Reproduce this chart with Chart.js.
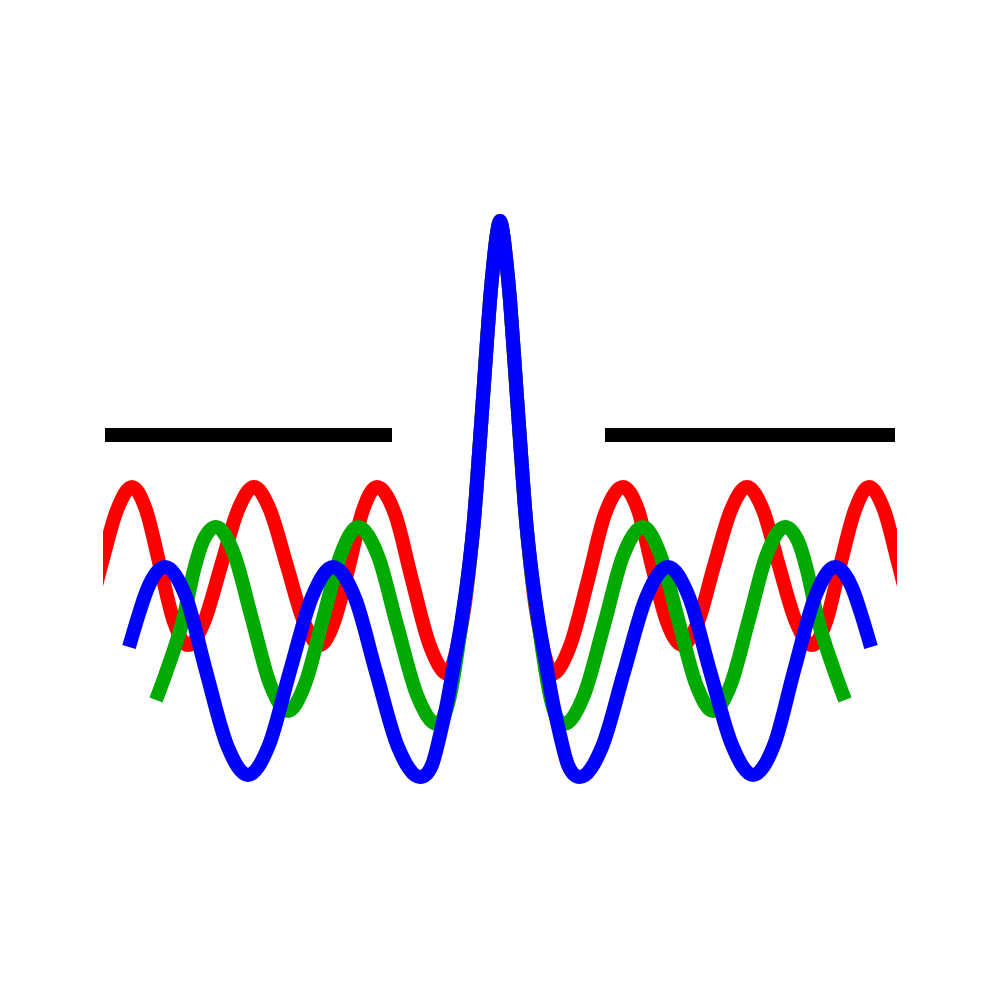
<!DOCTYPE html>
<html>
<head>
<meta charset="utf-8">
<script src="https://cdn.jsdelivr.net/npm/chart.js@4"></script>
<style>
html,body{margin:0;padding:0;background:#fff;}
#wrap{width:1000px;height:1000px;}
</style>
</head>
<body>
<div id="wrap"><canvas id="c" width="1000" height="1000"></canvas></div>
<script>
// values, [x, y] in arbitrary units
const blue = [[-371,-147],[-363,-120],[-353,-90],[-344,-73],[-335,-67],[-314,-97],[-294,-171],[-273,-245],[-252,-275],[-231,-245],[-210,-171],[-188,-97],[-167,-67],[-145,-98],[-124,-172],[-102,-247],[-80,-277],[-68,-265],[-60,-235],[-53,-203],[-46,-164],[-38,-118],[-32,-75],[-26,-20],[-20,60],[-14,145],[-10,200],[-6,242],[-3,267],[0,279],[3,267],[6,242],[10,200],[14,145],[20,60],[26,-20],[32,-75],[38,-118],[46,-164],[53,-203],[60,-235],[68,-265],[80,-277],[102,-247],[124,-172],[146,-98],[168,-67],[189,-97],[210,-171],[232,-245],[253,-275],[274,-245],[294,-171],[315,-97],[335,-67],[344,-73],[353,-90],[363,-120],[371,-147]];
const green = [[-344,-200],[-333,-170],[-317,-120],[-306,-70],[-297,-41],[-284,-27],[-266,-54],[-248,-119],[-230,-184],[-212,-211],[-195,-184],[-177,-119],[-159,-54],[-142,-27],[-122,-56],[-103,-125],[-83,-195],[-63,-224],[-57,-218],[-51,-200],[-45,-168],[-38,-120],[-32,-77],[-26,-20],[-20,60],[-14,145],[-10,200],[-6,242],[-3,267],[0,279],[3,267],[6,242],[10,200],[14,145],[20,60],[26,-20],[32,-77],[38,-120],[45,-168],[51,-200],[57,-218],[64,-224],[84,-195],[104,-125],[123,-56],[143,-27],[160,-54],[178,-119],[196,-184],[213,-211],[231,-184],[249,-119],[267,-54],[285,-27],[298,-41],[307,-70],[318,-120],[334,-170],[345,-200]];
const red = [[-429,-145],[-414,-122],[-399,-66],[-383,-10],[-368,13],[-354,-10],[-340,-66],[-326,-122],[-312,-145],[-296,-122],[-279,-66],[-262,-10],[-246,13],[-230,-10],[-213,-66],[-196,-122],[-180,-145],[-166,-122],[-151,-66],[-137,-10],[-123,13],[-105,-14],[-88,-80],[-70,-146],[-52,-174],[-45,-156],[-39,-128],[-34,-96],[-26,-20],[-20,60],[-14,145],[-10,200],[-6,242],[-3,267],[0,279],[3,267],[6,242],[10,200],[14,145],[20,60],[26,-20],[34,-96],[39,-128],[45,-156],[52,-174],[70,-146],[88,-80],[105,-14],[123,13],[138,-10],[152,-66],[167,-122],[182,-145],[198,-122],[214,-66],[231,-10],[247,13],[263,-10],[279,-66],[296,-122],[312,-145],[326,-122],[340,-66],[355,-10],[369,13],[384,-10],[399,-66],[414,-122],[429,-145]];
const blackLeft = [[-395,65],[-108,65]];
const blackRight = [[105,65],[395,65]];

const toPts = a => a.map(p => ({x: p[0], y: p[1]}));

const common = {
  pointRadius: 0,
  borderWidth: 14,
  fill: false,
  cubicInterpolationMode: 'monotone',
  borderCapStyle: 'butt',
  borderJoinStyle: 'round'
};

new Chart(document.getElementById('c'), {
  type: 'line',
  data: {
    datasets: [
      Object.assign({}, common, {data: toPts(blue), borderColor: '#0000ff', clip: false}),
      Object.assign({}, common, {data: toPts(green), borderColor: '#00aa00', clip: false}),
      Object.assign({}, common, {data: toPts(red), borderColor: '#ff0000', clip: {left: -3, right: -3, top: false, bottom: false}}),
      Object.assign({}, common, {data: toPts(blackLeft), borderColor: '#000000', clip: false}),
      Object.assign({}, common, {data: toPts(blackRight), borderColor: '#000000', clip: false})
    ]
  },
  options: {
    responsive: false,
    animation: false,
    devicePixelRatio: 1,
    layout: {padding: {left: 100, right: 100, top: 0, bottom: 0}},
    plugins: {legend: {display: false}, tooltip: {enabled: false}},
    scales: {
      x: {type: 'linear', min: -400, max: 400, display: false},
      y: {type: 'linear', min: -500, max: 500, display: false}
    }
  }
});
</script>
</body>
</html>
